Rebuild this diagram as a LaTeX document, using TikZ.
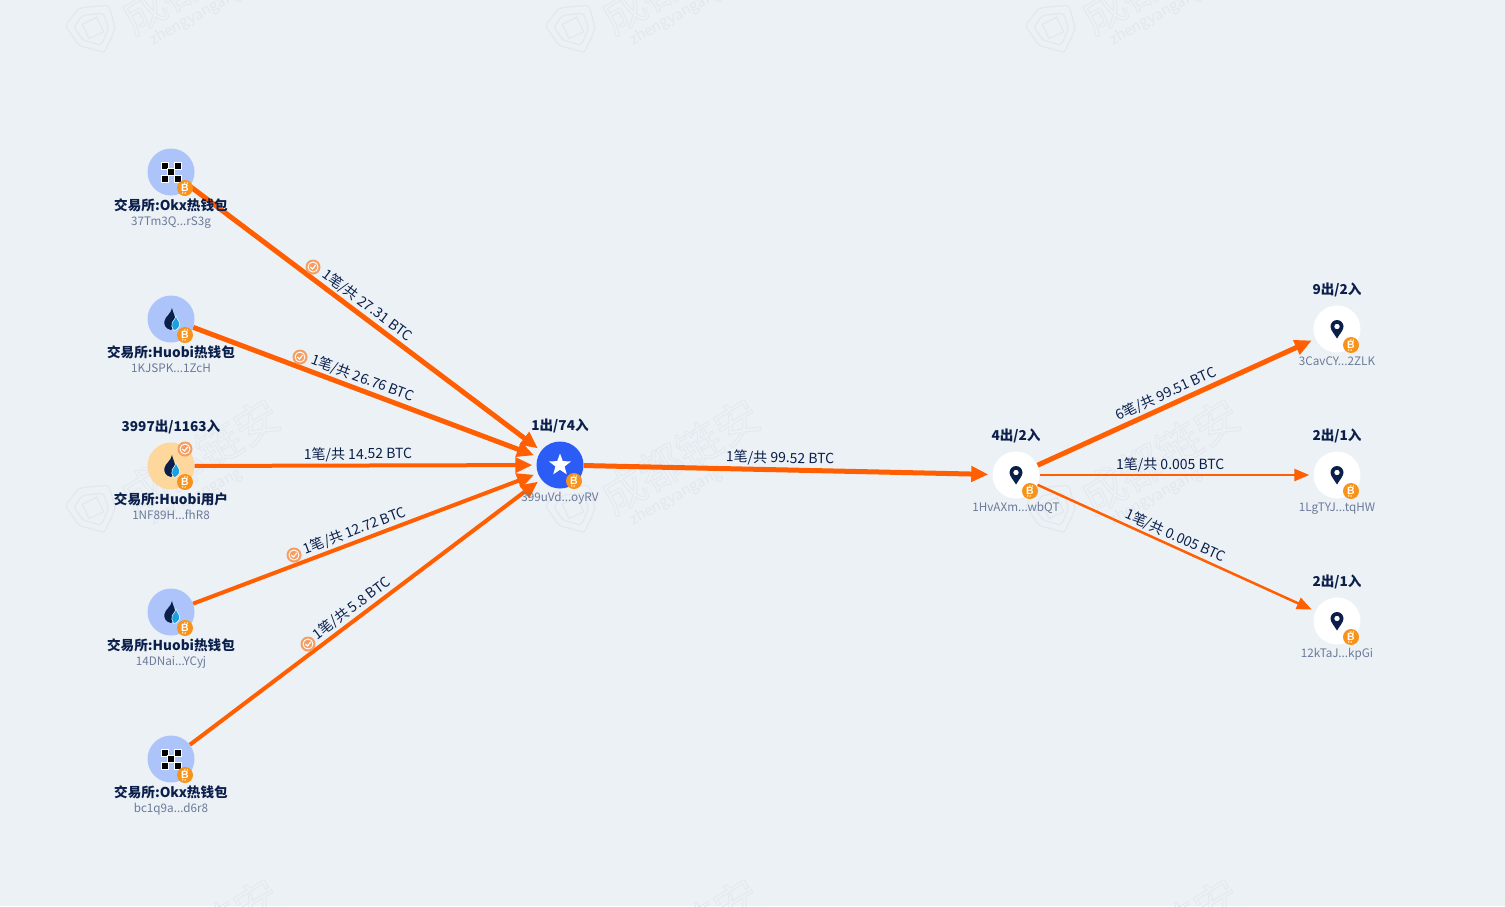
\documentclass[tikz,border=0pt]{standalone}
\usepackage{fontspec}
\setmainfont{Noto Sans CJK SC}
\newfontfamily\btcfont{Liberation Sans}
\usetikzlibrary{arrows.meta, positioning, shapes.geometric}
\definecolor{bgcol}{HTML}{ECF1F6}
\definecolor{markcol}{HTML}{E3E8EE}
\definecolor{navycol}{HTML}{0B1F4B}
\definecolor{addrcol}{HTML}{6B7A99}
\definecolor{flowcol}{HTML}{FF5F00}
\definecolor{btccol}{HTML}{F7931A}
\definecolor{checkcol}{HTML}{F59E63}
\definecolor{exchcol}{HTML}{ADC4FB}
\definecolor{usercol}{HTML}{FDD79B}
\definecolor{starcol}{HTML}{2B5CF6}
\definecolor{dropcol}{HTML}{1A9FE0}
\newcommand{\outlined}[1]{\special{pdf:code 1 Tr 0.8 w}#1\special{pdf:code 0 Tr 1 w}}
\tikzset{
	wallet/.style = {circle, minimum size = 47pt, inner sep = 0pt},
	title/.style = {font = \bfseries\fontsize{13.6}{14}\selectfont, text = navycol, inner sep = 0pt, text height = 10pt, text depth = 3pt},
	addr/.style = {font = \fontsize{11.7}{12}\selectfont, text = addrcol, inner sep = 0pt, text height = 9pt, text depth = 2pt},
	amount/.style = {font = \fontsize{14}{14}\selectfont, text = navycol, inner sep = 2pt, sloped, above},
	bigflow/.style = {draw = flowcol, line width = 5pt, shorten > = 4pt, -{Triangle[length = 17pt, width = 15pt]}},
	midflow/.style = {draw = flowcol, line width = 4pt, shorten > = 4pt, -{Triangle[length = 17pt, width = 15pt]}},
	thinflow/.style = {draw = flowcol, line width = 2.5pt, shorten > = 4pt, -{Triangle[length = 15pt, width = 12pt]}},
	okxicon/.pic = {
		\foreach \px/\py in {-6.4/-6.4, 6.4/-6.4, 0/0, -6.4/6.4, 6.4/6.4}
			\filldraw[fill = black, draw = white, line width = 0.4pt] (\px-3.4,\py-3.4) rectangle (\px+3.4,\py+3.4);
	},
	huobiicon/.pic = {
		\fill[navycol] (1,-11) .. controls (2,-6) and (4.5,-3) .. (4,1) .. controls (3.5,6) and (2,10) .. (0,11) .. controls (-5,10) and (-7.5,6) .. (-6.5,2) .. controls (-5.5,-3) and (0,-5) .. (1,-11) -- cycle;
		\filldraw[fill = dropcol, draw = white, line width = 0.5pt] (5,-3) .. controls (6,0) and (9,3) .. (8.6,6) .. controls (8.2,9) and (5,11.5) .. (2.8,11.5) .. controls (0.8,9) and (0.2,6) .. (1.2,3.5) .. controls (2.2,1.5) and (4.5,0) .. (5,-3) -- cycle;
	},
	pinicon/.pic = {
		\fill[navycol, even odd rule] (0,9.5) .. controls (-3,4.5) and (-6.5,1) .. (-6.5,-2.5) .. controls (-6.5,-6) and (-3.5,-9) .. (0,-9) .. controls (3.5,-9) and (6.5,-6) .. (6.5,-2.5) .. controls (6.5,1) and (3,4.5) .. (0,9.5) -- cycle (0,-2.5) circle (2.8);
	},
	btcbadge/.pic = {
		\fill[btccol] (0,0) circle (8);
		\begin{scope}[rotate = -12]
			\node[text = white, inner sep = 0pt, font = \btcfont\bfseries\fontsize{10.5}{10.5}\selectfont] {B};
			\draw[white, line width = 0.8pt] (-1.2,-6) -- (-1.2,-4) (1.2,-6) -- (1.2,-4) (-1.2,4) -- (-1.2,6) (1.2,4) -- (1.2,6);
		\end{scope}
	},
	checkbadge/.pic = {
		\fill[checkcol] (0,0) circle (7.5);
		\draw[white, line width = 0.9pt] (0,0) circle (5);
		\draw[white, line width = 1.1pt] (-2.6,0) -- (-0.6,2) -- (2.8,-2);
	},
	markicon/.pic = {
		\draw[markcol, line width = 1.2pt, rounded corners = 3pt] (-24,-14) -- (-4,-24) -- (24,-14) -- (20,10) -- (0,27) -- (-20,10) -- cycle;
		\draw[markcol, line width = 1.2pt, rounded corners = 3pt] (-17,-9) -- (-4,-16) -- (16,-9) -- (14,7) -- (0,19) -- (-14,7) -- cycle;
		\draw[markcol, line width = 1.2pt] (-8,-8) rectangle (8,8);
	},
	markname/.style = {rotate = 31, text = markcol, font = \fontsize{44}{44}\selectfont}
}

\begin{document}
\begin{tikzpicture}[x = 1pt, y = -1pt]
	\useasboundingbox (0,0) rectangle (1505,906);
	\fill[bgcol] (0,0) rectangle (1505,906);
	\clip (0,0) rectangle (1505,906);
	% watermark
	\foreach \mx in {0,480,960} {
		\foreach \my in {0,480} {
			\pic[rotate = 25] at (93+\mx,28+\my) {markicon};
			\node[markname] at (200+\mx,-24+\my) {\outlined{成都链安}};
			\node[rotate = 29, text = markcol, font = \fontsize{15}{15}\selectfont] at (196+\mx,17+\my) {zhengyangang};
		}
		\node[markname] at (200+\mx,936) {\outlined{成都链安}};
	}
	% addresses
	\node[wallet, fill = exchcol] (okxa) at (171,172) {};
	\node[wallet, fill = exchcol] (huobia) at (171,319) {};
	\node[wallet, fill = usercol] (huobiuser) at (171,466) {};
	\node[wallet, fill = exchcol] (huobib) at (171,612) {};
	\node[wallet, fill = exchcol] (okxb) at (171,759) {};
	\node[wallet, fill = starcol] (target) at (560,465) {};
	\node[wallet, fill = white] (hop) at (1016,475) {};
	\node[wallet, fill = white] (outa) at (1337,329) {};
	\node[wallet, fill = white] (outb) at (1337,475) {};
	\node[wallet, fill = white] (outc) at (1337,621) {};
	% flows
	\draw[bigflow] (okxa) -- node[amount, pos = 0.485] {1笔/共 27.31 BTC} (target);
	\draw[bigflow] (huobia) -- node[amount, pos = 0.48] {1笔/共 26.76 BTC} (target);
	\draw[midflow] (huobiuser) -- node[amount, pos = 0.478] {1笔/共 14.52 BTC} (target);
	\draw[midflow] (huobib) -- node[amount, pos = 0.48] {1笔/共 12.72 BTC} (target);
	\draw[midflow] (okxb) -- node[amount, pos = 0.48] {1笔/共 5.8 BTC} (target);
	\draw[bigflow] (target) -- node[amount, pos = 0.48] {1笔/共 99.52 BTC} (hop);
	\draw[bigflow] (hop) -- node[amount, pos = 0.48] {6笔/共 99.51 BTC} (outa);
	\draw[thinflow] (hop) -- node[amount, pos = 0.477] {1笔/共 0.005 BTC} (outb);
	\draw[thinflow] (hop) -- node[amount, pos = 0.48] {1笔/共 0.005 BTC} (outc);
	\pic at (313,267) {checkbadge};
	\pic at (300,357) {checkbadge};
	\pic at (294,555) {checkbadge};
	\pic at (308,644) {checkbadge};
	% icons
	\pic at (171,172) {okxicon};
	\pic at (171,319) {huobiicon};
	\pic at (171,466) {huobiicon};
	\pic at (171,612) {huobiicon};
	\pic at (171,759) {okxicon};
	\node[star, star points = 5, star point ratio = 2.4, fill = white, minimum size = 23pt, inner sep = 0pt] (targetstar) at (target) {};
	\pic at (hop) {pinicon};
	\pic at (outa) {pinicon};
	\pic at (outb) {pinicon};
	\pic at (outc) {pinicon};
	\pic at (185,449) {checkbadge};
	% coin marks
	\pic at (185,188) {btcbadge};
	\pic at (185,335) {btcbadge};
	\pic at (185,482) {btcbadge};
	\pic at (185,628) {btcbadge};
	\pic at (185,775) {btcbadge};
	\pic at (574,481) {btcbadge};
	\pic at (1030,491) {btcbadge};
	\pic at (1351,345) {btcbadge};
	\pic at (1351,491) {btcbadge};
	\pic at (1351,637) {btcbadge};
	% names and short addresses
	\node[title, below = 5pt of okxa] (okxaname) {交易所:Okx热钱包};
	\node[addr, below = 2pt of okxaname] (okxaaddr) {37Tm3Q...rS3g};
	\node[title, below = 5pt of huobia] (huobianame) {交易所:Huobi热钱包};
	\node[addr, below = 2pt of huobianame] (huobiaaddr) {1KJSPK...1ZcH};
	\node[title, above = 8pt of huobiuser] (huobiusercount) {3997出/1163入};
	\node[title, below = 5pt of huobiuser] (huobiusername) {交易所:Huobi用户};
	\node[addr, below = 2pt of huobiusername] (huobiuseraddr) {1NF89H...fhR8};
	\node[title, below = 5pt of huobib] (huobibname) {交易所:Huobi热钱包};
	\node[addr, below = 2pt of huobibname] (huobibaddr) {14DNai...YCyj};
	\node[title, below = 5pt of okxb] (okxbname) {交易所:Okx热钱包};
	\node[addr, below = 2pt of okxbname] (okxbaddr) {bc1q9a...d6r8};
	\node[title, above = 8pt of target] (targetcount) {1出/74入};
	\node[addr, below = 4pt of target] (targetaddr) {399uVd...oyRV};
	\node[title, above = 8pt of hop] (hopcount) {4出/2入};
	\node[addr, below = 4pt of hop] (hopaddr) {1HvAXm...wbQT};
	\node[title, above = 8pt of outa] (outacount) {9出/2入};
	\node[addr, below = 4pt of outa] (outaaddr) {3CavCY...2ZLK};
	\node[title, above = 8pt of outb] (outbcount) {2出/1入};
	\node[addr, below = 4pt of outb] (outbaddr) {1LgTYJ...tqHW};
	\node[title, above = 8pt of outc] (outccount) {2出/1入};
	\node[addr, below = 4pt of outc] (outcaddr) {12kTaJ...kpGi};
\end{tikzpicture}
\end{document}
